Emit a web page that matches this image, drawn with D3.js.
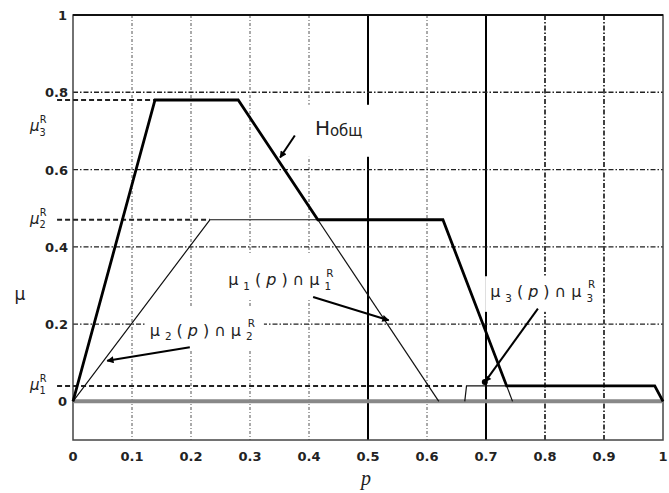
<!DOCTYPE html>
<html><head><meta charset="utf-8">
<script src="https://cdn.jsdelivr.net/npm/d3@7"></script>
<style>body{margin:0;background:#fff}svg{display:block}</style>
</head><body>
<svg id="chart" width="669" height="493"></svg>
<script>
// ---------- data ----------
const xTickValues = [0,0.1,0.2,0.3,0.4,0.5,0.6,0.7,0.8,0.9,1];
const xTickLabels = ["0","0.1","0.2","0.3","0.4","0.5","0.6","0.7","0.8","0.9","1"];
const yTickValues = [0,0.2,0.4,0.6,0.8,1];
const yTickLabels = ["0","0.2","0.4","0.6","0.8","1"];
const vGridValues = [0.1,0.2,0.3,0.4,0.5,0.6,0.7,0.8,0.9];
const vGridKind   = ["light","light","light","light","solid","light","solid","dark","dark"];
const hGridValues = [0.2,0.4,0.6,0.8];

// overall (thick) envelope H_общ
const envP  = [0, 0.139, 0.28, 0.415, 0.627, 0.735, 0.986, 1];
const envMu = [0, 0.78, 0.78, 0.47, 0.47, 0.04, 0.04, 0];
// thin truncated membership functions
const cut2P  = [0, 0.232, 0.415];
const cut2Mu = [0, 0.47, 0.47];
const cut1P  = [0.415, 0.62];
const cut1Mu = [0.47, 0];
const tailP  = [0.735, 0.745];
const tailMu = [0.04, 0];
const cut3P  = [0.664, 0.667, 0.986, 1];
const cut3Mu = [0, 0.04, 0.04, 0];

// truncation levels
const levelNames  = ["3","2","1"];
const levelValues = [0.78, 0.47, 0.04];
const levelEnds   = [0.139, 0.232, 0.664];
const levelLabelMu = [0.71, 0.47, 0.04];

// annotations
const annSub   = ["1","2","3"];
const annTextP = [0.263, 0.130, 0.707];
const annTextMu= [0.30, 0.17, 0.27];
const annFromP = [0.407, 0.198, 0.788];
const annFromMu= [0.27, 0.14, 0.24];
const annToP   = [0.535, 0.058, 0.698];
const annToMu  = [0.21, 0.105, 0.05];
const hTextP = 0.41, hTextMu = 0.69, hFrom = [0.376, 0.688], hTo = [0.351, 0.631];

// ---------- layout ----------
const svg = d3.select("#chart");
const L = 73, R = 663, T = 15, B = 440;
const x = d3.scaleLinear().domain([0,1]).range([L,R]);
const y = d3.scaleLinear().domain([-0.1,1]).range([B,T]);
const FONT = "'DejaVu Sans', sans-serif";

const defs = svg.append("defs");
defs.append("marker").attr("id","ah").attr("viewBox","0 0 10 10")
  .attr("refX",9).attr("refY",5).attr("markerWidth",9).attr("markerHeight",7)
  .attr("markerUnits","userSpaceOnUse").attr("orient","auto")
  .append("path").attr("d","M0,0 L10,5 L0,10 Z").attr("fill","#000");

// grid
const grid = svg.append("g");
vGridValues.forEach((v,i)=>{
  const k = vGridKind[i];
  const ln = grid.append("line").attr("x1",x(v)).attr("x2",x(v)).attr("y1",y(1)).attr("y2",y(-0.1));
  if (k==="solid") ln.attr("stroke","#000").attr("stroke-width",2);
  else if (k==="dark") ln.attr("stroke","#111").attr("stroke-width",1.6).attr("stroke-dasharray","5,2,1.5,2");
  else ln.attr("stroke","#555").attr("stroke-width",1).attr("stroke-dasharray","3,2,1,2");
});
hGridValues.forEach(v=>{
  grid.append("line").attr("x1",x(0)).attr("x2",x(1)).attr("y1",y(v)).attr("y2",y(v))
    .attr("stroke","#222").attr("stroke-width",1.3).attr("stroke-dasharray","5,2,1.5,2");
});

// frame
svg.append("rect").attr("x",L).attr("y",T).attr("width",R-L).attr("height",B-T)
  .attr("fill","none").attr("stroke","#444").attr("stroke-width",1.5);
svg.append("line").attr("x1",L).attr("x2",R).attr("y1",T).attr("y2",T).attr("stroke","#111").attr("stroke-width",2);

// rich text helper
function rich(sel, parts, size){
  let cur = 0;
  parts.forEach(pt=>{
    const target = pt.sub ? size*0.3 : pt.sup ? -size*0.55 : 0;
    const ts = sel.append("tspan").text(pt.t).attr("dy", target-cur);
    cur = target;
    if (pt.sub || pt.sup) ts.attr("font-size", size*0.65);
    if (pt.it) ts.attr("font-style","italic");
    if (pt.dx) ts.attr("dx", pt.dx);
  });
}

// white-boxed annotation labels
const annG = svg.append("g");
function boxedLabel(px, py, buildFn, pad){
  const g = annG.append("g");
  const rect = g.append("rect").attr("fill","#fff");
  const t = g.append("text").attr("x",px).attr("y",py).attr("font-family",FONT);
  buildFn(t);
  const bb = t.node().getBBox();
  rect.attr("x",bb.x-pad[0]).attr("y",bb.y-pad[1])
      .attr("width",bb.width+pad[0]+pad[2]).attr("height",bb.height+pad[1]+pad[3]);
}
const pads = [[8,12,6,6],[4,10,4,8],[5,2,2,8]];
annSub.forEach((s,i)=>{
  boxedLabel(x(annTextP[i]), y(annTextMu[i]), t=>{
    t.attr("font-size",16).attr("letter-spacing",5).attr("fill","#222");
    rich(t,[{t:"μ"},{t:s,sub:true},{t:"("},{t:"p",it:true},{t:")∩μ"},{t:s,sub:true},{t:"R",sup:true,dx:-10}],16);
  }, pads[i]);
});
boxedLabel(x(hTextP), y(hTextMu), t=>{
  t.attr("fill","#222");
  t.append("tspan").text("Н").attr("font-size",20);
  t.append("tspan").text("общ").attr("font-size",15).attr("dy",1);
}, [12,11,11,17]);

// level dashed lines
levelValues.forEach((v,i)=>{
  svg.append("line").attr("x1",x(-0.027)).attr("x2",x(levelEnds[i])).attr("y1",y(v)).attr("y2",y(v))
    .attr("stroke","#222").attr("stroke-width",2).attr("stroke-dasharray","5,3");
});

// curves
const line = d3.line().x(d=>x(d[0])).y(d=>y(d[1]));
const zip = (a,b)=>a.map((v,i)=>[v,b[i]]);
svg.append("line").attr("x1",x(0)).attr("x2",x(1)).attr("y1",y(0)).attr("y2",y(0))
  .attr("stroke","#888").attr("stroke-width",4);
[[cut2P,cut2Mu],[cut1P,cut1Mu],[tailP,tailMu],[cut3P,cut3Mu]].forEach(([p,m])=>{
  svg.append("path").attr("d",line(zip(p,m))).attr("fill","none").attr("stroke","#111").attr("stroke-width",1.2);
});
svg.append("path").attr("d",line(zip(envP,envMu))).attr("fill","none").attr("stroke","#000").attr("stroke-width",2.8);

// arrows
annSub.forEach((s,i)=>{
  svg.append("line").attr("x1",x(annFromP[i])).attr("y1",y(annFromMu[i]))
    .attr("x2",x(annToP[i])).attr("y2",y(annToMu[i]))
    .attr("stroke","#000").attr("stroke-width",2).attr("marker-end","url(#ah)");
});
svg.append("circle").attr("cx",x(annToP[2])).attr("cy",y(annToMu[2])).attr("r",3).attr("fill","#000");
svg.append("line").attr("x1",x(hFrom[0])).attr("y1",y(hFrom[1])).attr("x2",x(hTo[0])).attr("y2",y(hTo[1]))
  .attr("stroke","#000").attr("stroke-width",2).attr("marker-end","url(#ah)");

// ticks labels
svg.append("g").selectAll("text").data(xTickValues).join("text")
  .attr("x",d=>x(d)).attr("y",B+21).attr("text-anchor","middle")
  .attr("font-family",FONT).attr("font-weight","bold").attr("font-size",13).attr("fill","#222")
  .text((d,i)=>xTickLabels[i]);
svg.append("g").selectAll("text").data(yTickValues).join("text")
  .attr("x",d=>d===0||d===1?67:68).attr("y",d=>y(d)+5).attr("text-anchor","end")
  .attr("font-family",FONT).attr("font-weight","bold").attr("font-size",13).attr("fill","#222")
  .text((d,i)=>yTickLabels[i]);

// level labels
levelNames.forEach((s,i)=>{
  const t = svg.append("text").attr("x",30).attr("y",y(levelLabelMu[i])+4)
    .attr("font-family",FONT).attr("font-size",15).attr("fill","#222");
  rich(t,[{t:"μ",it:true},{t:s,sub:true},{t:"R",sup:true,dx:-6}],15);
});

// axis labels
svg.append("text").attr("x",20).attr("y",300).attr("text-anchor","middle")
  .attr("font-family",FONT).attr("font-size",17).attr("fill","#222").text("μ");
svg.append("text").attr("x",366).attr("y",485).attr("text-anchor","middle")
  .attr("font-family","'Liberation Serif', serif").attr("font-style","italic").attr("font-size",20).attr("fill","#222").text("p");
</script>
</body></html>
